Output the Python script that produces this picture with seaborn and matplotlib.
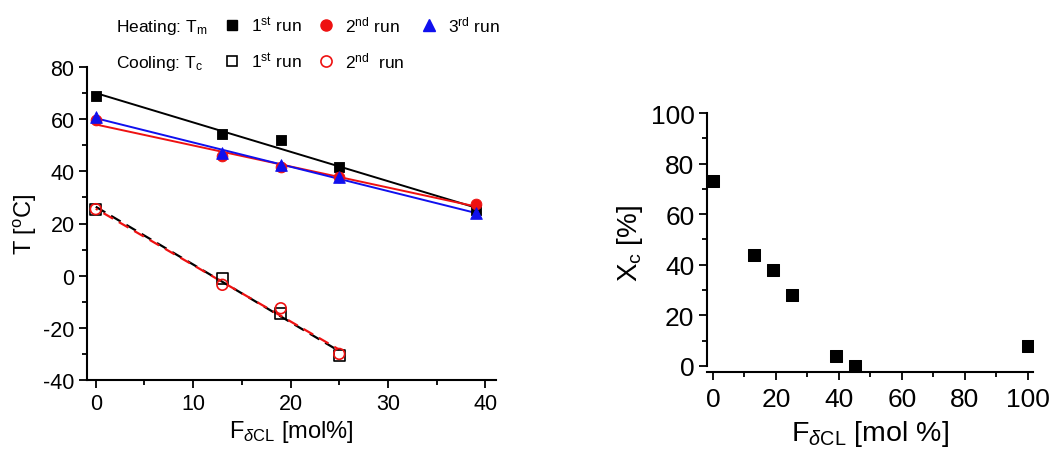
import numpy as np
import pandas as pd
import matplotlib
matplotlib.use("Agg")
import matplotlib.pyplot as plt
from matplotlib.lines import Line2D
from matplotlib.ticker import MultipleLocator
import seaborn as sns

# ---- data ----
f_heat = [0, 13, 19, 25, 39]
tm_run1 = [69, 54.5, 52, 41.5, 25]
tm_run2 = [59.5, 46, 41.5, 38, 27.5]
tm_run3 = [61, 47, 42.5, 38, 24]

f_cool = [0, 13, 19, 25]
tc_run1 = [25.5, -1, -14.5, -30.5]
tc_run2 = [25.5, -3.5, -12.5, -30]

f_xc = [0, 13, 19, 25, 39, 45, 100]
xc = [73, 44, 38, 28, 4, 0, 8]

sns.set_style("ticks")
plt.rcParams['font.family'] = ['Liberation Sans', 'DejaVu Sans']
plt.rcParams['mathtext.fontset'] = 'custom'
plt.rcParams['mathtext.rm'] = 'Liberation Sans'
plt.rcParams['mathtext.it'] = 'Liberation Sans:italic'
plt.rcParams['mathtext.sf'] = 'Liberation Sans'
plt.rcParams['axes.unicode_minus'] = False
for k in ['text.color', 'axes.labelcolor', 'xtick.color', 'ytick.color', 'axes.edgecolor']:
    plt.rcParams[k] = 'black'

W, H = 1054, 452
fig = plt.figure(figsize=(W / 100, H / 100), dpi=100)

ax1 = fig.add_axes([87 / W, 1 - 381 / H, (496 - 87) / W, (381 - 68) / H])
ax2 = fig.add_axes([707 / W, 1 - 373 / H, (1033 - 707) / W, (373 - 114) / H])

RED = "#ee1111"
BLUE = "#1010ee"

# ---- left panel: fit lines ----
line_kw = dict(lw=1.4)
sns.regplot(x=f_heat, y=tm_run1, ax=ax1, scatter=False, ci=None, color="black", line_kws=line_kw)
sns.regplot(x=f_heat, y=tm_run2, ax=ax1, scatter=False, ci=None, color=RED, line_kws=line_kw)
sns.regplot(x=f_heat, y=tm_run3, ax=ax1, scatter=False, ci=None, color=BLUE, line_kws=line_kw)
sns.regplot(x=f_cool, y=tc_run1, ax=ax1, scatter=False, ci=None, color="black",
            line_kws=dict(lw=1.6, linestyle=(0, (5, 3))))
sns.regplot(x=f_cool, y=tc_run2, ax=ax1, scatter=False, ci=None, color=RED,
            line_kws=dict(lw=1.6, linestyle=(4, (5, 3))))

ms = 60
sns.scatterplot(x=f_heat, y=tm_run1, ax=ax1, marker="s", color="black", s=ms, edgecolor="black", zorder=5)
sns.scatterplot(x=f_heat, y=tm_run2, ax=ax1, marker="o", color=RED, s=ms, edgecolor=RED, zorder=5)
sns.scatterplot(x=f_heat, y=tm_run3, ax=ax1, marker="^", color=BLUE, s=ms + 10, edgecolor=BLUE, zorder=6)
sns.scatterplot(x=f_cool, y=tc_run1, ax=ax1, marker="s", facecolor="none", edgecolor="black",
                linewidth=1.2, s=ms, zorder=5)
sns.scatterplot(x=f_cool, y=tc_run2, ax=ax1, marker="o", facecolor="none", edgecolor=RED,
                linewidth=1.2, s=ms, zorder=6)

ax1.set_xlim(-0.9, 41.1)
ax1.set_ylim(-40, 80)
ax1.xaxis.set_major_locator(MultipleLocator(10))
ax1.xaxis.set_minor_locator(MultipleLocator(5))
ax1.yaxis.set_major_locator(MultipleLocator(20))
ax1.yaxis.set_minor_locator(MultipleLocator(10))
ax1.tick_params(which='major', length=6, width=1.3, labelsize=15.5, direction='out', pad=3)
ax1.tick_params(which='minor', length=3.5, width=1.3, direction='out')
ax1.set_xlabel(r"F$_{\mathit{\delta}\mathrm{CL}}$ [mol%]", fontsize=17, labelpad=3)
ax1.set_ylabel(r"T [$^{\mathrm{o}}$C]", fontsize=17, labelpad=3)
sns.despine(ax=ax1)
for s in ax1.spines.values():
    s.set_linewidth(1.5)

# ---- right panel ----
sns.scatterplot(x=f_xc, y=xc, ax=ax2, marker="s", color="black", s=85, edgecolor="black", zorder=5)
ax2.set_xlim(-1.9, 101.6)
ax2.set_ylim(-2.4, 100)
ax2.xaxis.set_major_locator(MultipleLocator(20))
ax2.xaxis.set_minor_locator(MultipleLocator(10))
ax2.yaxis.set_major_locator(MultipleLocator(20))
ax2.yaxis.set_minor_locator(MultipleLocator(10))
ax2.tick_params(which='major', length=6, width=1.3, labelsize=19, direction='out', pad=3)
ax2.tick_params(which='minor', length=3.5, width=1.3, direction='out')
ax2.tick_params(axis='x', which='major', pad=5)
ax2.set_xlabel(r"F$_{\mathit{\delta}\mathrm{CL}}$ [mol %]", fontsize=20.5, labelpad=5)
ax2.set_ylabel(r"X$_{\mathrm{c}}$ [%]", fontsize=20, labelpad=4)
ax2.spines['left'].set_bounds(0, 100)
sns.despine(ax=ax2)
for s in ax2.spines.values():
    s.set_linewidth(1.5)

# ---- legend ----
blank = Line2D([], [], linestyle='none', marker=None)
h_sq = Line2D([], [], linestyle='none', marker='s', color='black', markersize=7)
h_sq_o = Line2D([], [], linestyle='none', marker='s', markerfacecolor='none',
                markeredgecolor='black', markersize=7, markeredgewidth=1.2)
h_ci = Line2D([], [], linestyle='none', marker='o', color=RED, markersize=8)
h_ci_o = Line2D([], [], linestyle='none', marker='o', markerfacecolor='none',
                markeredgecolor=RED, markersize=8, markeredgewidth=1.2)
h_tr = Line2D([], [], linestyle='none', marker='^', color=BLUE, markersize=8)

handles = [blank, blank, h_sq, h_sq_o, h_ci, h_ci_o, h_tr, blank]
labels = [r"Heating: T$_{\mathrm{m}}$", r"Cooling: T$_{\mathrm{c}}$",
          r"1$^{\mathrm{st}}$ run", r"1$^{\mathrm{st}}$ run",
          r"2$^{\mathrm{nd}}$ run", r"2$^{\mathrm{nd}}$  run",
          r"3$^{\mathrm{rd}}$ run", ""]
fig.legend(handles, labels, ncol=4, frameon=False, fontsize=12.5,
           loc='upper left', bbox_to_anchor=(76 / W, 1 - 3 / H),
           handlelength=1.0, handletextpad=0.6, columnspacing=0.9,
           labelspacing=0.95, borderpad=0.2)

fig.savefig("out.png", dpi=100)
